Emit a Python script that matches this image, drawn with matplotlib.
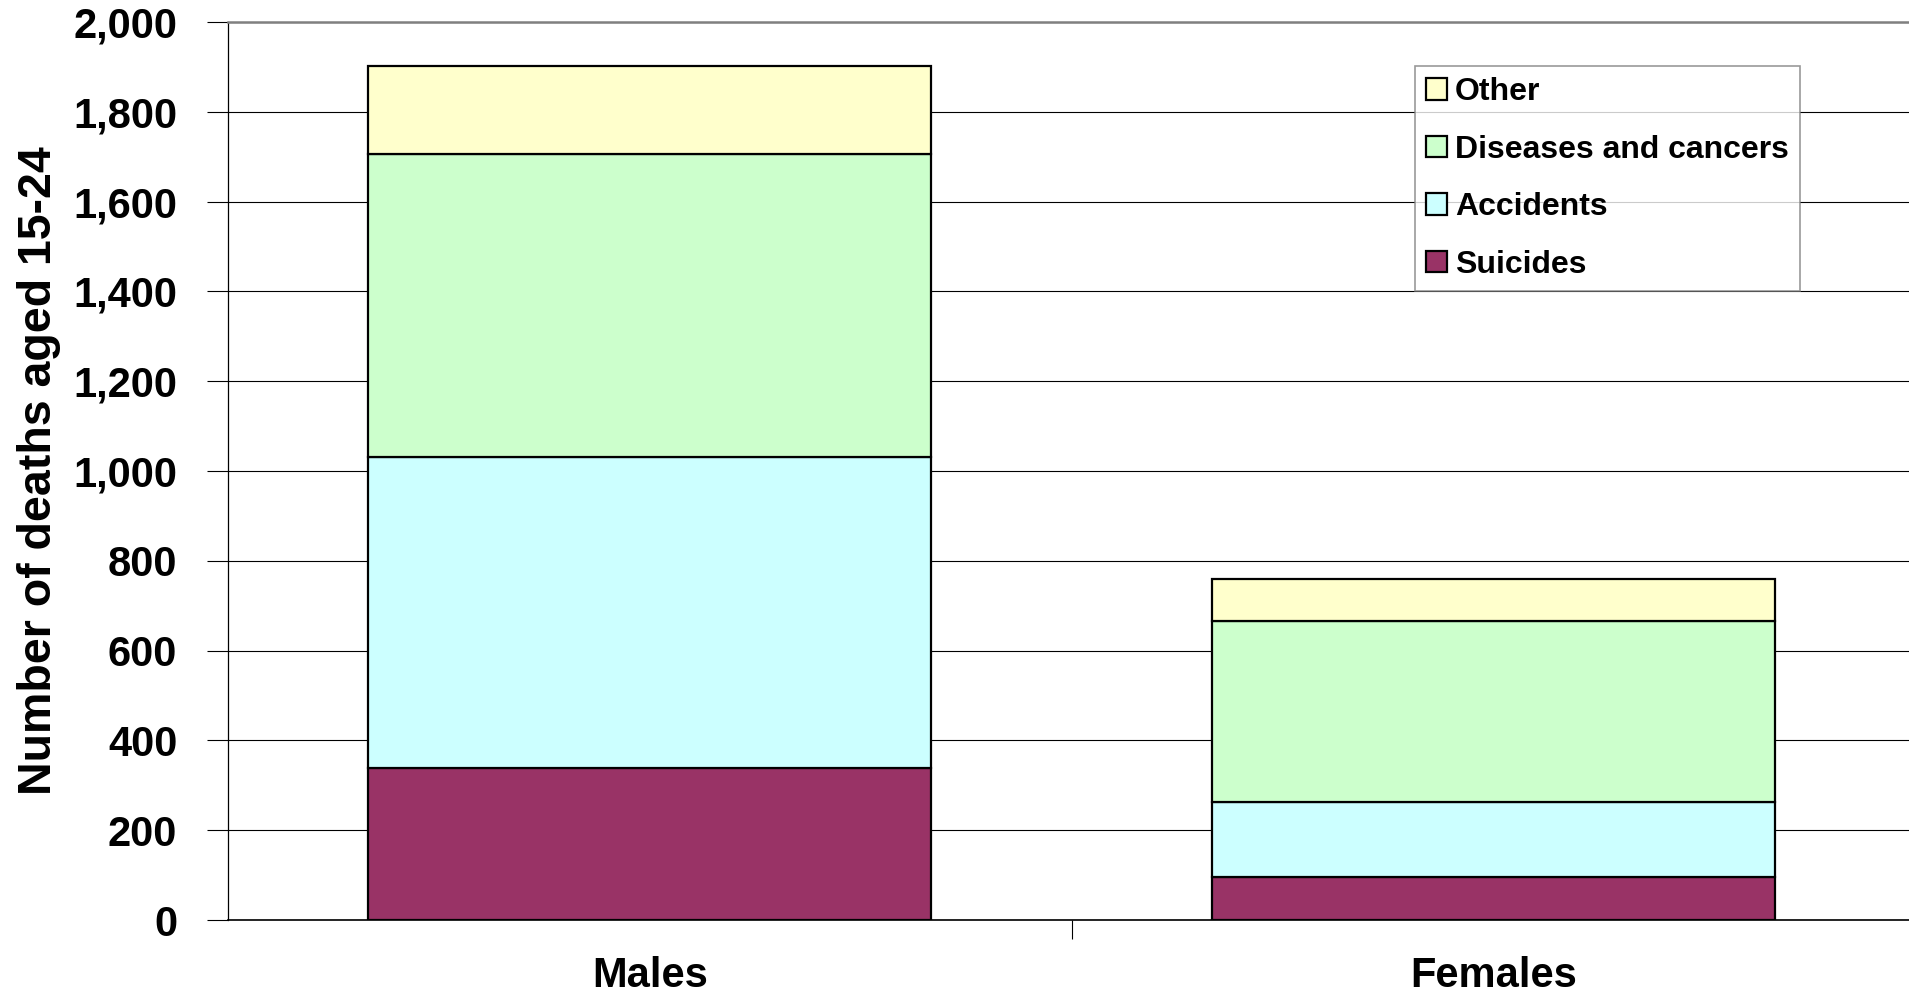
import matplotlib
matplotlib.use("Agg")
import matplotlib.pyplot as plt
import numpy as np

# values (number of deaths aged 15-24)
groups = ["Males", "Females"]
causes = ["Suicides", "Accidents", "Diseases and cancers", "Other"]
suicides = [339, 95]
accidents = [693, 168]
diseases = [675, 404]
other = [195, 92]
colours = ["#993366", "#CCFFFF", "#CCFFCC", "#FFFFCC"]
yticks = list(range(0, 2001, 200))

plt.rcParams["font.family"] = ["Liberation Sans", "DejaVu Sans"]
plt.rcParams["font.weight"] = "bold"

fig = plt.figure(figsize=(19.09, 9.93), dpi=100)
ax = fig.add_axes([228 / 1909, 73 / 993, (1915 - 228) / 1909, 898 / 993])

x = np.arange(len(groups))
bottom = np.zeros(len(groups))
bars = []
for vals, col, name in zip([suicides, accidents, diseases, other], colours, causes):
    b = ax.bar(x, vals, width=0.667, bottom=bottom, color=col, edgecolor="black",
               linewidth=1.6, label=name, zorder=3)
    bars.append(b)
    bottom = bottom + np.array(vals)

ax.set_xlim(-0.5, 1.5)
ax.set_ylim(0, 2000)
ax.set_yticks(yticks)
ax.set_yticklabels(["{:,}".format(v) for v in yticks])
ax.yaxis.grid(True, color="black", linewidth=0.8, zorder=0)
ax.set_axisbelow(True)

ax.set_xticks(x)
ax.set_xticklabels(groups)
ax.set_xticks([0.5], minor=True)
ax.tick_params(axis="x", which="major", length=0, pad=26, labelsize=30)
ax.tick_params(axis="x", which="minor", length=14, width=0.8, direction="out")
ax.tick_params(axis="y", length=15, width=0.8, direction="out", pad=21.5, labelsize=30)

ax.spines["right"].set_visible(False)
ax.spines["top"].set_color("#808080")
ax.spines["top"].set_linewidth(1.8)
ax.spines["left"].set_linewidth(0.9)
ax.spines["bottom"].set_linewidth(1.2)

ax.set_ylabel("Number of deaths aged 15-24", fontsize=33.5, fontweight="bold")
ax.yaxis.set_label_coords(-0.099, 0.5)

leg = ax.legend(bars[::-1], causes[::-1], loc="upper left",
                bbox_to_anchor=(1415 / 1909, 1 - 66 / 993), bbox_transform=fig.transFigure,
                borderaxespad=0, fontsize=23, frameon=True, fancybox=False,
                handlelength=0.65, handleheight=0.65, handletextpad=0.25,
                labelspacing=0.86, borderpad=0.35)
leg.get_frame().set_edgecolor("#808080")
leg.get_frame().set_linewidth(1.2)
for h in leg.legend_handles:
    h.set_linewidth(1.6)

fig.savefig("out.png", dpi=100)
